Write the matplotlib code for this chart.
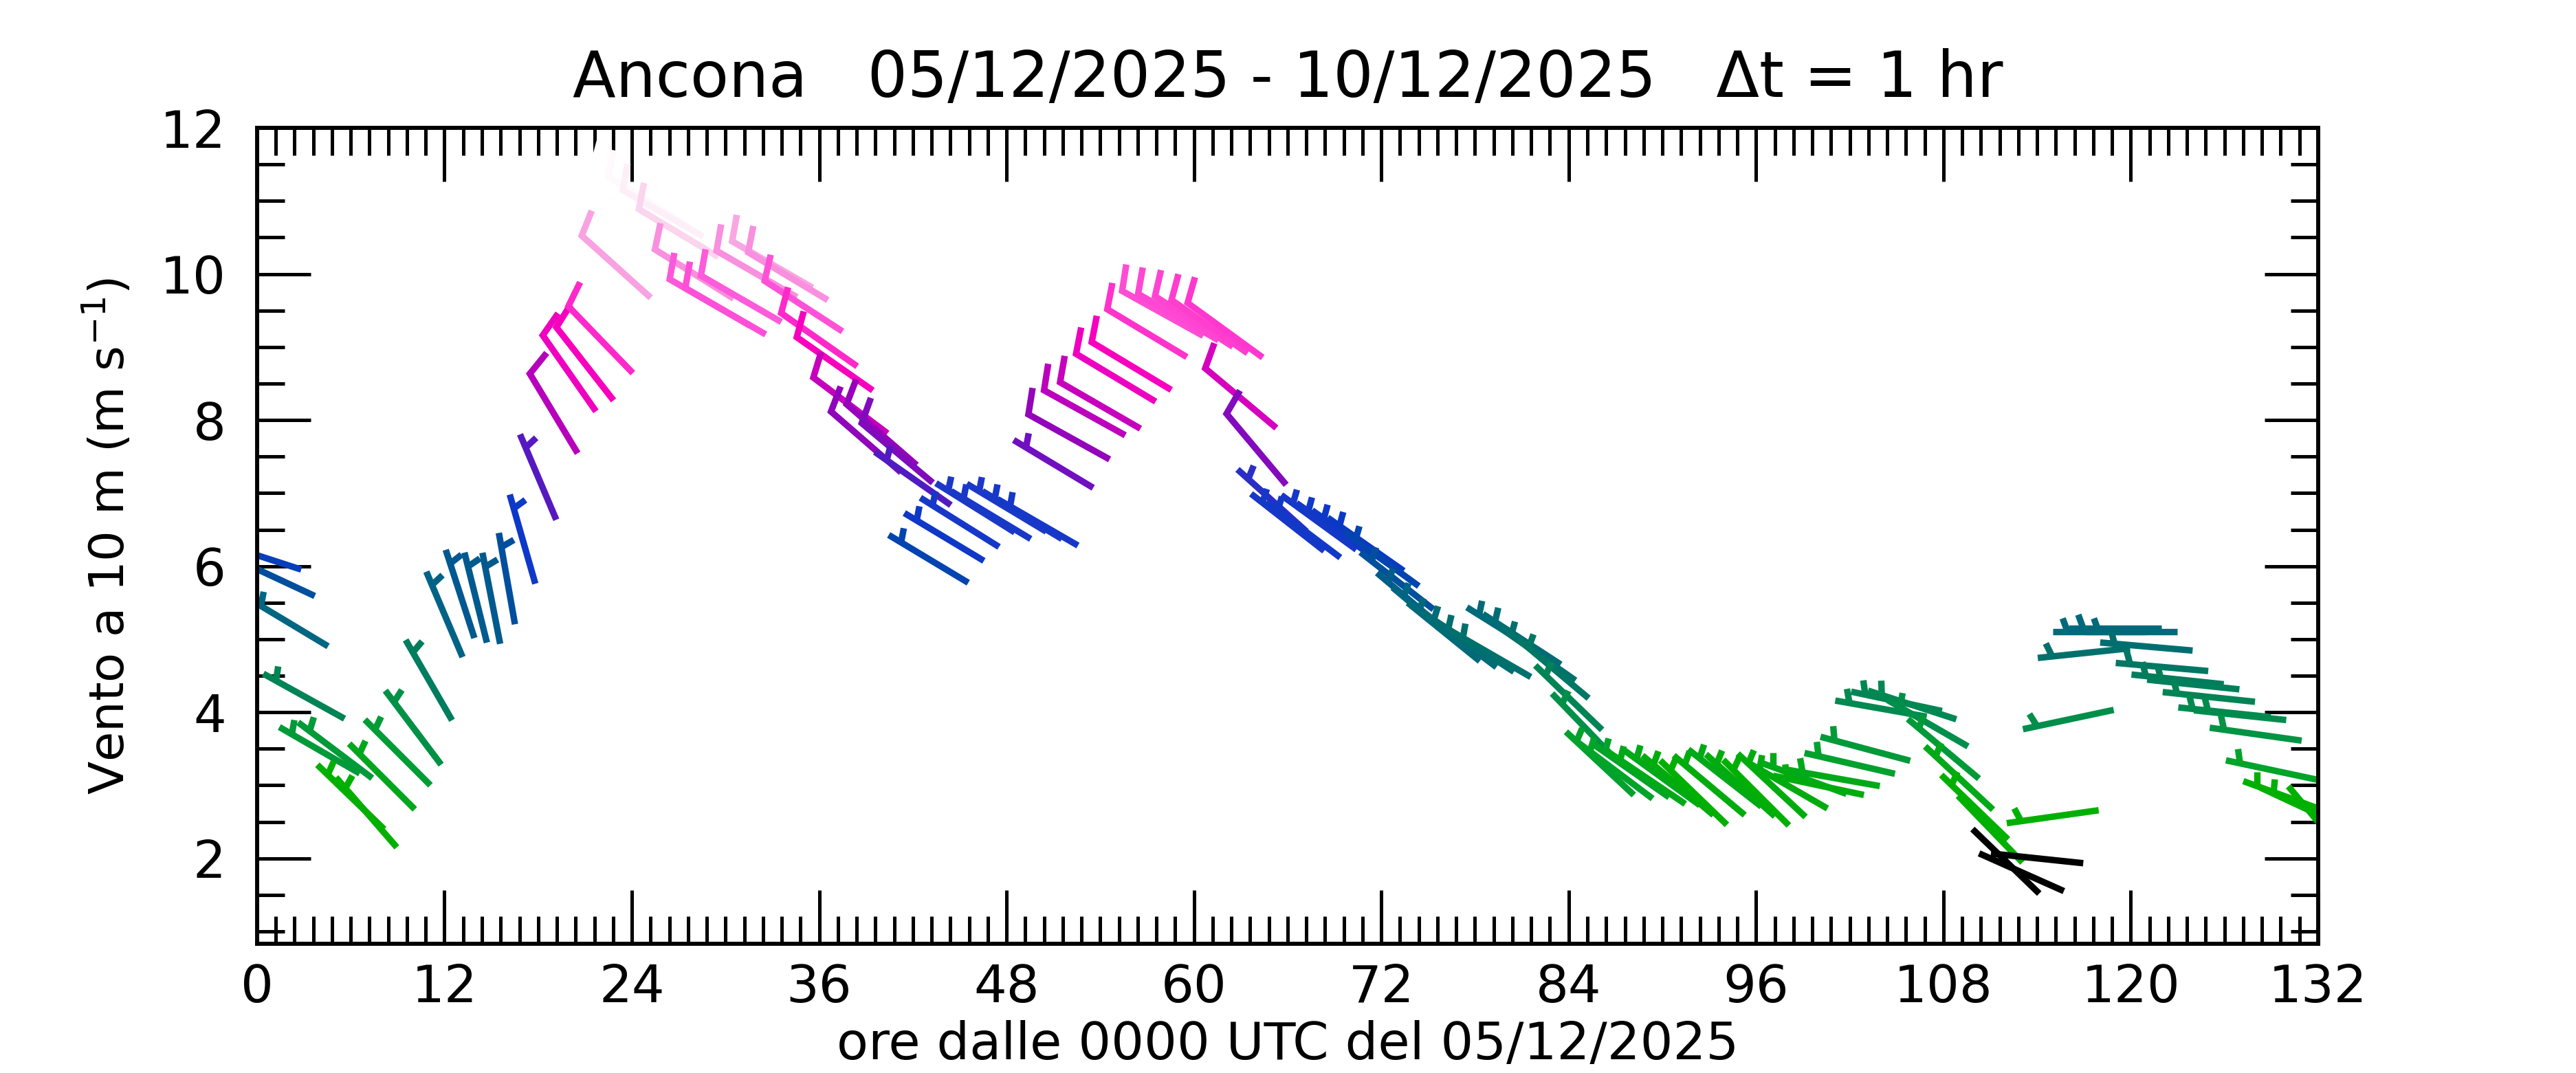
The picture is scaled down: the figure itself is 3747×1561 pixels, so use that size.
import numpy as np
import matplotlib
matplotlib.use('Agg')
import matplotlib.pyplot as plt
from matplotlib.lines import Line2D
from matplotlib.colors import LinearSegmentedColormap
from matplotlib.ticker import MultipleLocator
from matplotlib.transforms import IdentityTransform

# hourly wind at 10 m, Ancona
hours = np.arange(0, 133)
speed = [6.15, 5.86, 5.23, 4.22, 3.48, 3.48, 2.84, 2.63, 3.12, 3.45,
         3.79, 4.44, 5.34, 5.62, 5.57, 5.56, 5.83, 6.37, 7.22, 8.09,
         8.64, 8.77, 9.10, 10.1, 11.15, 11.0, 10.83, 10.56, 10.0, 9.61,
         9.49, 9.66, 10.0, 10.13, 9.97, 9.56, 9.1, 8.77, 8.2, 7.7,
         7.8, 7.55, 7.2, 6.1, 6.4, 6.6, 6.8, 6.7, 6.8, 6.7,
         6.6, 7.4, 7.77, 8.1, 8.2, 8.58, 8.74, 9.19, 9.46, 9.41,
         9.35, 9.28, 9.23, 8.3, 7.6, 6.9, 6.6, 6.5, 6.6, 6.5,
         6.4, 6.3, 6.1, 5.8, 5.5, 5.3, 5.1, 5.0, 4.9, 4.8,
         5.1, 5.0, 4.8, 4.6, 4.2, 3.8, 3.3, 3.2, 3.2, 3.1,
         3.1, 3.0, 2.9, 3.0, 3.1, 3.0, 2.9, 3.0, 3.0, 3.1,
         3.0, 3.1, 3.3, 3.5, 4.05, 4.15, 4.1, 3.85, 3.5, 3.1,
         2.7, 2.4, 1.96, 1.81, 2.0, 2.57, 3.9, 4.81, 5.1, 5.15,
         5.1, 4.9, 4.62, 4.45, 4.38, 4.21, 4.0, 3.96, 3.7, 3.21,
         2.84, 2.7, 2.5]
# direction the wind blows from (deg)
direction = [288, 295, 301, 299, 300, 307, 314, 319, 315, 315,
             323, 330, 337, 342, 346, 349, 350, 344, 337, 329,
             325, 322, 316, 312, 305, 302, 300, 301, 302, 300,
             300, 300, 300, 300, 301, 303, 305, 305, 307, 311,
             311, 310, 305, 301, 301, 302, 302, 301, 301, 301,
             300, 301, 299, 299, 300, 301, 301, 301, 299, 300,
             303, 305, 306, 310, 320, 312, 308, 307, 306, 305,
             305, 305, 306, 308, 310, 310, 309, 307, 303, 300,
             302, 303, 305, 310, 314, 316, 313, 307, 305, 304,
             306, 310, 314, 310, 308, 312, 315, 313, 300, 290,
             282, 280, 283, 285, 280, 282, 288, 300, 310, 313,
             314, 316, 314, 294, 276, 262, 258, 264, 270, 270,
             270, 275, 275, 276, 276, 276, 276, 276, 278, 282,
             290, 295, 320]

# colour scale for speed
cbar_speed = [1.8, 2.05, 2.3, 2.9, 3.2, 3.6, 4.0, 4.4, 4.8, 5.2, 5.6, 6.0, 6.3,
              6.8, 7.1, 7.4, 7.9, 8.4, 8.8, 9.3, 9.7, 10.1, 10.6, 10.85, 11.1, 12.0]
cbar_color = ['#000000', '#000000', '#00b000', '#00b000', '#00a428', '#009640',
              '#008a50', '#007e5c', '#00706c', '#006880', '#005890', '#0048a8',
              '#0c38c8', '#1c38c8', '#4020c0', '#7010c0', '#a000b8', '#e000c0',
              '#fa00be', '#ff40d0', '#fc5cdc', '#f8a0e0', '#fbd8ee', '#fdf0f8',
              '#ffffff', '#ffffff']

vmin, vmax = cbar_speed[0], cbar_speed[-1]
cmap = LinearSegmentedColormap.from_list(
    'wind', [((s - vmin) / (vmax - vmin), c) for s, c in zip(cbar_speed, cbar_color)])

DPI = 250
fig = plt.figure(figsize=(3747 / DPI, 1561 / DPI), dpi=DPI)
ax = fig.add_axes([0.0998, 0.1204, 0.8001, 0.7604])
ax.set_autoscale_on(False)
ax.set_xlim(0, 132)
ax.set_ylim(0.83, 12)

# barb sizes in pixels
L = 135.0
full_len = 39.0
half_len = 21.0
half_off = 21.0
lw = 2.7

pts = ax.transData.transform(np.column_stack([hours, speed]))
for (cx, cy), s, D in zip(pts, speed, direction):
    a = np.deg2rad(D)
    d = np.array([np.sin(a), np.cos(a)])
    c = np.array([cx, cy])
    tip = c + d * L / 2
    tail = c - d * L / 2
    ta = np.arctan2(d[1], d[0]) - np.deg2rad(70)
    u = np.array([np.cos(ta), np.sin(ta)])
    col = cmap((s - vmin) / (vmax - vmin))
    mag = 5 * np.round(s / 5)
    if mag >= 10:
        lines = [np.array([tip + u * full_len, tip, tail])]
    elif mag >= 5:
        base = tip - d * half_off
        lines = [np.array([tip, tail]), np.array([base, base + u * half_len])]
    else:
        lines = [np.array([tip, tail])]
    for xy in lines:
        ln = Line2D(xy[:, 0], xy[:, 1], color=col, lw=lw, transform=IdentityTransform(),
                    solid_capstyle='butt', solid_joinstyle='miter')
        ax.add_line(ln)

ax.set_xticks(np.arange(0, 133, 12))
ax.xaxis.set_minor_locator(MultipleLocator(1.2))
ax.set_yticks([2, 4, 6, 8, 10, 12])
ax.yaxis.set_minor_locator(MultipleLocator(0.5))
ax.tick_params(which='both', direction='in', top=True, right=True, width=1.45,
               labelsize=21.7)
ax.tick_params(which='major', length=22.5)
ax.tick_params(which='minor', length=11.5)
ax.tick_params(axis='x', pad=8)
ax.tick_params(axis='y', pad=13)
for sp in ax.spines.values():
    sp.set_linewidth(1.7)

ax.set_xlabel('ore dalle 0000 UTC del 05/12/2025', fontsize=21.7, labelpad=3)
ax.set_ylabel('Vento a 10 m (m s$^{-1}$)', fontsize=20.3, labelpad=11)
ax.set_title('Ancona   05/12/2025 - 10/12/2025   \u0394t = 1 hr', fontsize=26.4, pad=13)

fig.savefig('out.png', dpi=DPI)
